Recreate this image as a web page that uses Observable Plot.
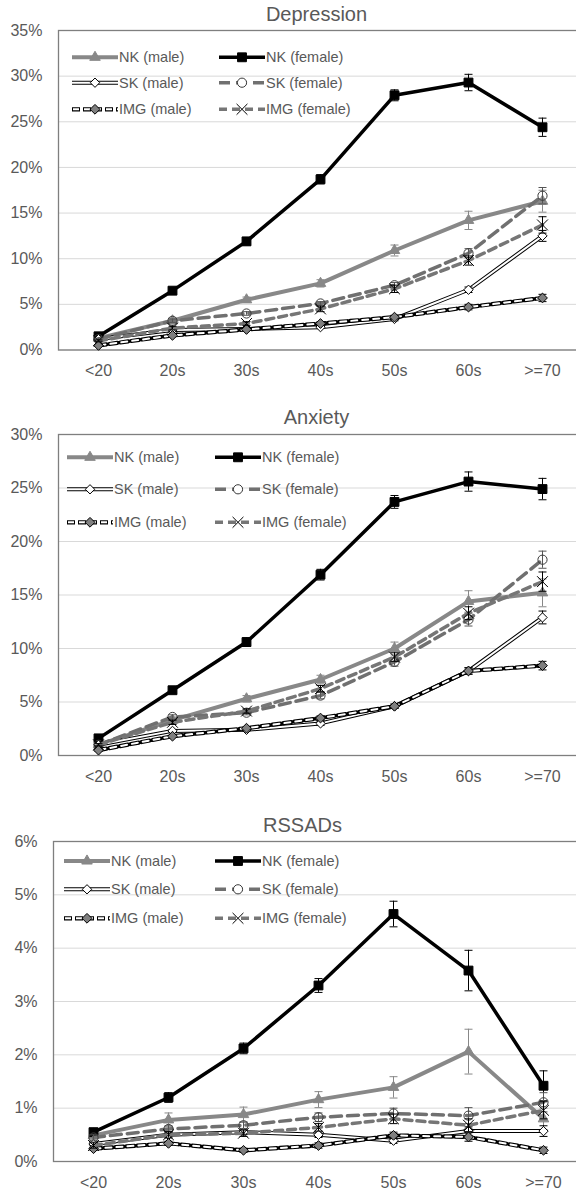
<!DOCTYPE html>
<html>
<head>
<meta charset="utf-8">
<script src="https://cdn.jsdelivr.net/npm/d3@7"></script>
<script src="https://cdn.jsdelivr.net/npm/@observablehq/plot@0.6"></script>
<style>
  body { margin: 0; background: #fff; width: 576px; overflow: hidden; }
  #chart svg { display: block; }
</style>
</head>
<body>
<div id="chart"></div>
<script>
// Age groups on the x axis
const ages = ["<20", "20s", "30s", "40s", "50s", "60s", ">=70"];
const seriesNames = ["NK (male)", "NK (female)", "SK (male)", "SK (female)", "IMG (male)", "IMG (female)"];

// Depression prevalence (%) and error half-widths
const depNKMale = [1.3, 3.2, 5.5, 7.3, 10.9, 14.2, 16.3];
const depNKFemale = [1.5, 6.5, 11.9, 18.7, 27.9, 29.3, 24.4];
const depSKMale = [1.2, 2.2, 2.3, 2.5, 3.4, 6.6, 12.5];
const depSKFemale = [1.2, 3.2, 4.0, 5.1, 7.1, 10.6, 16.9];
const depIMGMale = [0.5, 1.6, 2.25, 2.9, 3.6, 4.7, 5.7];
const depIMGFemale = [1.0, 2.4, 2.9, 4.5, 6.7, 9.8, 13.7];
const depNKMaleErr = [0.2, 0.3, 0.3, 0.4, 0.6, 1.0, 1.2];
const depNKFemaleErr = [0.2, 0.3, 0.4, 0.5, 0.6, 0.9, 1.0];
const depSKMaleErr = [0.1, 0.1, 0.1, 0.1, 0.2, 0.3, 0.6];
const depSKFemaleErr = [0.1, 0.2, 0.2, 0.2, 0.3, 0.5, 0.9];
const depIMGMaleErr = [0.1, 0.1, 0.1, 0.2, 0.2, 0.3, 0.4];
const depIMGFemaleErr = [0.1, 0.2, 0.2, 0.3, 0.4, 0.5, 0.9];

// Anxiety prevalence (%) and error half-widths
const anxNKMale = [1.0, 3.3, 5.3, 7.1, 10.0, 14.4, 15.2];
const anxNKFemale = [1.6, 6.1, 10.6, 16.9, 23.7, 25.6, 24.9];
const anxSKMale = [1.0, 2.3, 2.4, 3.0, 4.6, 7.9, 12.9];
const anxSKFemale = [1.0, 3.6, 4.0, 5.6, 8.75, 12.7, 18.3];
const anxIMGMale = [0.5, 1.8, 2.55, 3.5, 4.6, 7.9, 8.4];
const anxIMGFemale = [1.0, 3.1, 4.15, 6.25, 9.2, 13.3, 16.25];
const anxNKMaleErr = [0.2, 0.3, 0.3, 0.4, 0.6, 1.0, 1.3];
const anxNKFemaleErr = [0.2, 0.3, 0.4, 0.5, 0.6, 0.9, 1.0];
const anxSKMaleErr = [0.1, 0.1, 0.1, 0.2, 0.2, 0.3, 0.6];
const anxSKFemaleErr = [0.1, 0.2, 0.2, 0.3, 0.4, 0.6, 0.8];
const anxIMGMaleErr = [0.1, 0.1, 0.1, 0.2, 0.2, 0.3, 0.4];
const anxIMGFemaleErr = [0.1, 0.2, 0.2, 0.3, 0.4, 0.6, 0.9];

// RSSADs prevalence (%) and error half-widths
const rsNKMale = [0.49, 0.78, 0.88, 1.16, 1.39, 2.06, 0.8];
const rsNKFemale = [0.55, 1.2, 2.12, 3.3, 4.64, 3.58, 1.42];
const rsSKMale = [0.33, 0.5, 0.55, 0.5, 0.39, 0.57, 0.57];
const rsSKFemale = [0.45, 0.61, 0.68, 0.83, 0.9, 0.86, 1.11];
const rsIMGMale = [0.24, 0.34, 0.21, 0.3, 0.49, 0.46, 0.21];
const rsIMGFemale = [0.3, 0.5, 0.53, 0.64, 0.8, 0.68, 0.96];
const rsNKMaleErr = [0.07, 0.13, 0.14, 0.15, 0.2, 0.42, 0.2];
const rsNKFemaleErr = [0.07, 0.09, 0.1, 0.13, 0.24, 0.38, 0.28];
const rsSKMaleErr = [0.03, 0.04, 0.04, 0.05, 0.05, 0.08, 0.1];
const rsSKFemaleErr = [0.05, 0.06, 0.06, 0.08, 0.1, 0.15, 0.18];
const rsIMGMaleErr = [0.03, 0.04, 0.04, 0.05, 0.06, 0.08, 0.06];
const rsIMGFemaleErr = [0.05, 0.06, 0.06, 0.07, 0.09, 0.12, 0.16];

// Y axis ticks for each panel (%)
const depTicks = [0, 5, 10, 15, 20, 25, 30, 35];
const anxTicks = [0, 5, 10, 15, 20, 25, 30];
const rsTicks = [0, 1, 2, 3, 4, 5, 6];

// Visual style of each series: stroke layers for the line, marker and error bar colour
const GRAY = "#888888";
const looks = {
  "NK (male)": {
    layers: [{stroke: GRAY, width: 4}],
    symbol: "triangle", r: 3.9, fill: GRAY, mstroke: GRAY, errColor: GRAY
  },
  "NK (female)": {
    layers: [{stroke: "#000", width: 3.5}],
    symbol: "square", r: 5, fill: "#000", mstroke: "#000", errColor: "#000"
  },
  "SK (male)": {
    layers: [{stroke: "#000", width: 4}, {stroke: "#fff", width: 2}],
    symbol: "diamond2", r: 4.2, fill: "#fff", mstroke: "#000", errColor: "#000"
  },
  "SK (female)": {
    layers: [{stroke: "#707070", width: 3.5, dash: "11,6"}],
    symbol: "circle", r: 4.6, fill: "none", mstroke: "#3a3a3a", errColor: "#555"
  },
  "IMG (male)": {
    layers: [{stroke: "#000", width: 4.2, dash: "8,3"}, {stroke: "#fff", width: 2, dash: "6,5", offset: -1}],
    symbol: "diamond2", r: 4.4, fill: "#7f7f7f", mstroke: "#000", errColor: "#000"
  },
  "IMG (female)": {
    layers: [{stroke: "#767676", width: 3.5, dash: "8,5"}],
    symbol: "times", r: 5, fill: "none", mstroke: "#000", errColor: "#000"
  }
};

const symbolTypes = {
  triangle: d3.symbolTriangle, square: d3.symbolSquare, diamond2: d3.symbolDiamond2,
  circle: d3.symbolCircle, times: d3.symbolTimes
};

// Short horizontal stroke used for error bar caps
const capSymbol = {
  draw(context, size) {
    const w = Math.sqrt(size / Math.PI);
    context.moveTo(-w, 0);
    context.lineTo(w, 0);
  }
};

function rows(name, values, errors) {
  return ages.map((age, i) => ({series: name, age, value: values[i], err: errors[i]}));
}

function seriesMarks(data, name) {
  const lk = looks[name];
  const marks = [];
  for (const layer of lk.layers) {
    marks.push(Plot.line(data, {
      x: "age", y: "value", stroke: layer.stroke, strokeWidth: layer.width,
      strokeDasharray: layer.dash, strokeDashoffset: layer.offset, strokeLinejoin: "round"
    }));
  }
  const lo = d => d.value - d.err, hi = d => d.value + d.err;
  marks.push(Plot.ruleX(data, {x: "age", y1: lo, y2: hi, stroke: lk.errColor, strokeWidth: 1}));
  marks.push(Plot.dot(data, {x: "age", y: lo, symbol: capSymbol, r: 4, stroke: lk.errColor, strokeWidth: 1}));
  marks.push(Plot.dot(data, {x: "age", y: hi, symbol: capSymbol, r: 4, stroke: lk.errColor, strokeWidth: 1}));
  marks.push(Plot.dot(data, {
    x: "age", y: "value", symbol: lk.symbol, r: lk.r,
    fill: lk.fill, stroke: lk.mstroke, strokeWidth: 1
  }));
  return marks;
}

// Legend drawn inside the plot frame, two columns by three rows
function addLegend(svg, cfg) {
  const g = d3.select(svg).append("g").attr("class", "legend");
  seriesNames.forEach((name, i) => {
    const col = i % 2, row = Math.floor(i / 2);
    const x0 = cfg.cols[col], x1 = x0 + cfg.lineLen, y = cfg.rows[row];
    const lk = looks[name];
    const item = g.append("g");
    for (const layer of lk.layers) {
      item.append("line")
        .attr("x1", x0).attr("x2", x1).attr("y1", y).attr("y2", y)
        .attr("stroke", layer.stroke).attr("stroke-width", layer.width)
        .attr("stroke-dasharray", layer.dash || null)
        .attr("stroke-dashoffset", layer.offset || null);
    }
    item.append("path")
      .attr("transform", `translate(${(x0 + x1) / 2},${y})`)
      .attr("d", d3.symbol(symbolTypes[lk.symbol], Math.PI * lk.r * lk.r)())
      .attr("fill", lk.fill === "none" ? "#fff" : lk.fill)
      .attr("stroke", lk.mstroke).attr("stroke-width", 1);
    item.append("text")
      .attr("x", x1 + 1).attr("y", y).attr("dy", "0.35em")
      .attr("text-anchor", "start")
      .attr("fill", "#595959")
      .style("font-family", "'Liberation Sans', Arial, sans-serif")
      .style("font-size", "14.5px")
      .text(name);
  });
}

function panel(cfg) {
  const data = seriesNames.map((name, i) => rows(name, cfg.values[i], cfg.errors[i]));
  const plot = Plot.plot({
    width: 576,
    height: cfg.height,
    marginLeft: cfg.marginLeft,
    marginRight: cfg.marginRight,
    marginTop: cfg.marginTop,
    marginBottom: cfg.marginBottom,
    style: {fontFamily: "'Liberation Sans', Arial, sans-serif", fontSize: "16px", color: "#595959", background: "#fff"},
    x: {type: "point", domain: ages, padding: 0.5},
    y: {domain: [0, cfg.ticks[cfg.ticks.length - 1]]},
    marks: [
      Plot.gridY(cfg.ticks, {stroke: "#d9d9d9", strokeOpacity: 1, strokeWidth: 1}),
      Plot.frame({stroke: "#7f7f7f", strokeWidth: 1.3}),
      Plot.axisY({ticks: cfg.ticks, tickSize: 0, tickPadding: 16, tickFormat: d => d + "%", fill: "#595959", label: null}),
      Plot.axisX({tickSize: 0, tickPadding: 15, fill: "#595959", label: null}),
      ...data.flatMap((d, i) => seriesMarks(d, seriesNames[i])),
      Plot.text([cfg.title], {
        frameAnchor: "top-left", dx: cfg.titleX - cfg.marginLeft, dy: -cfg.titleRise,
        textAnchor: "middle", lineAnchor: "middle", fontSize: 20, fill: "#595959"
      })
    ]
  });
  addLegend(plot, cfg.legend);
  document.getElementById("chart").appendChild(plot);
}

panel({
  title: "Depression", titleX: 316, titleRise: 16,
  height: 395, marginTop: 30, marginBottom: 45.5, marginLeft: 58, marginRight: -5,
  ticks: depTicks,
  values: [depNKMale, depNKFemale, depSKMale, depSKFemale, depIMGMale, depIMGFemale],
  errors: [depNKMaleErr, depNKFemaleErr, depSKMaleErr, depSKFemaleErr, depIMGMaleErr, depIMGFemaleErr],
  legend: {cols: [72, 219], lineLen: 46, rows: [57.3, 82.7, 109.3]}
});

panel({
  title: "Anxiety", titleX: 316, titleRise: 17,
  height: 405, marginTop: 39, marginBottom: 45, marginLeft: 58, marginRight: -5,
  ticks: anxTicks,
  values: [anxNKMale, anxNKFemale, anxSKMale, anxSKFemale, anxIMGMale, anxIMGFemale],
  errors: [anxNKMaleErr, anxNKFemaleErr, anxSKMaleErr, anxSKFemaleErr, anxIMGMaleErr, anxIMGFemaleErr],
  legend: {cols: [67, 215], lineLen: 46, rows: [62.3, 94.3, 127.3]}
});

panel({
  title: "RSSADs", titleX: 302, titleRise: 16,
  height: 394, marginTop: 41, marginBottom: 33, marginLeft: 53, marginRight: -6,
  ticks: rsTicks,
  values: [rsNKMale, rsNKFemale, rsSKMale, rsSKFemale, rsIMGMale, rsIMGFemale],
  errors: [rsNKMaleErr, rsNKFemaleErr, rsSKMaleErr, rsSKFemaleErr, rsIMGMaleErr, rsIMGFemaleErr],
  legend: {cols: [64, 215], lineLen: 46, rows: [61, 89.3, 118.3]}
});
</script>
</body>
</html>
